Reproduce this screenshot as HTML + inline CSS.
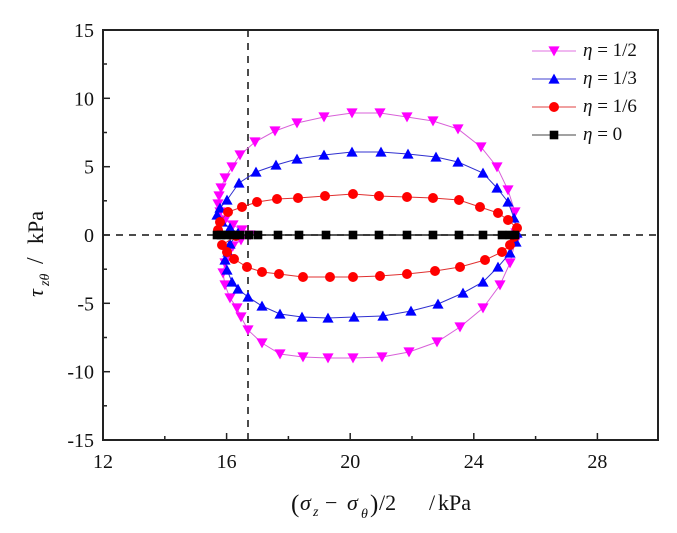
<!DOCTYPE html>
<html><head><meta charset="utf-8">
<style>
html,body{margin:0;padding:0;background:#fff;}
svg{display:block;}
text{font-family:"Liberation Serif","DejaVu Serif",serif;fill:#111;}
</style></head>
<body>
<svg width="677" height="533" viewBox="0 0 677 533" xmlns="http://www.w3.org/2000/svg">
<defs>
<path id="td" d="M-5.6,-4.6 L5.6,-4.6 L0,5.4Z"/>
<path id="tu" d="M-5.6,4.6 L5.6,4.6 L0,-5.4Z"/>
<circle id="ci" r="5"/>
<rect id="sq" x="-4.3" y="-4.3" width="8.6" height="8.6"/>
</defs>
<rect x="0" y="0" width="677" height="533" fill="#fff"/>

<!-- dashed lines -->
<line x1="103" y1="235" x2="658" y2="235" stroke="#111" stroke-width="1.5" stroke-dasharray="7,6"/>
<line x1="248" y1="30" x2="248" y2="440" stroke="#111" stroke-width="1.5" stroke-dasharray="7,6"/>

<!-- magenta eta=1/2 -->
<polyline fill="none" stroke="#d860d8" stroke-width="1" points="516,233 515,212 508,190 497,167 481,147 458,129 433,121 407,117 380,113 352,113 324,117 297,123 275,131 255,142 240,155 232,167 225,178 221,188 219,196 218,204 220,212 225,220 233,225 242,230 250,235 241,240 233,246 228,254 225,263 223,273 225,285 230,298 237,308 241,317 248,330 262,343 280,354 303,357 328,358 353,358 382,357 409,352 437,342 460,327 483,308 500,285 510,263 515,242 516,233"/>
<g fill="#ff00ff">
<use href="#td" x="516" y="233"/><use href="#td" x="515" y="212"/><use href="#td" x="508" y="190"/><use href="#td" x="497" y="167"/><use href="#td" x="481" y="147"/><use href="#td" x="458" y="129"/><use href="#td" x="433" y="121"/><use href="#td" x="407" y="117"/><use href="#td" x="380" y="113"/><use href="#td" x="352" y="113"/><use href="#td" x="324" y="117"/><use href="#td" x="297" y="123"/><use href="#td" x="275" y="131"/><use href="#td" x="255" y="142"/><use href="#td" x="240" y="155"/><use href="#td" x="232" y="167"/><use href="#td" x="225" y="178"/><use href="#td" x="221" y="188"/><use href="#td" x="219" y="196"/><use href="#td" x="218" y="204"/><use href="#td" x="220" y="212"/><use href="#td" x="225" y="220"/><use href="#td" x="233" y="225"/><use href="#td" x="242" y="230"/><use href="#td" x="250" y="235"/><use href="#td" x="241" y="240"/><use href="#td" x="233" y="246"/><use href="#td" x="228" y="254"/><use href="#td" x="225" y="263"/><use href="#td" x="223" y="273"/><use href="#td" x="225" y="285"/><use href="#td" x="230" y="298"/><use href="#td" x="237" y="308"/><use href="#td" x="241" y="317"/><use href="#td" x="248" y="330"/><use href="#td" x="262" y="343"/><use href="#td" x="280" y="354"/><use href="#td" x="303" y="357"/><use href="#td" x="328" y="358"/><use href="#td" x="353" y="358"/><use href="#td" x="382" y="357"/><use href="#td" x="409" y="352"/><use href="#td" x="437" y="342"/><use href="#td" x="460" y="327"/><use href="#td" x="483" y="308"/><use href="#td" x="500" y="285"/><use href="#td" x="510" y="263"/><use href="#td" x="515" y="242"/>
</g>

<!-- blue eta=1/3 -->
<polyline fill="none" stroke="#3030d0" stroke-width="1" points="517,233 514,218 508,202 497,188 483,173 458,162 436,157 408,154 381,152 352,152 324,155 297,159 276,165 256,172 239,183 227,200 220,208 217,215 222,222 230,228 238,233 230,244 228,252 225,260 227,270 232,282 238,289 248,297 262,306 280,314 302,317 328,318 354,317 383,316 411,311 438,304 463,293 483,282 498,267 510,253 516,242 517,233"/>
<g fill="#0000ff">
<use href="#tu" x="517" y="233"/><use href="#tu" x="514" y="218"/><use href="#tu" x="508" y="202"/><use href="#tu" x="497" y="188"/><use href="#tu" x="483" y="173"/><use href="#tu" x="458" y="162"/><use href="#tu" x="436" y="157"/><use href="#tu" x="408" y="154"/><use href="#tu" x="381" y="152"/><use href="#tu" x="352" y="152"/><use href="#tu" x="324" y="155"/><use href="#tu" x="297" y="159"/><use href="#tu" x="276" y="165"/><use href="#tu" x="256" y="172"/><use href="#tu" x="239" y="183"/><use href="#tu" x="227" y="200"/><use href="#tu" x="220" y="208"/><use href="#tu" x="217" y="215"/><use href="#tu" x="222" y="222"/><use href="#tu" x="230" y="228"/><use href="#tu" x="238" y="233"/><use href="#tu" x="230" y="244"/><use href="#tu" x="228" y="252"/><use href="#tu" x="225" y="260"/><use href="#tu" x="227" y="270"/><use href="#tu" x="232" y="282"/><use href="#tu" x="238" y="289"/><use href="#tu" x="248" y="297"/><use href="#tu" x="262" y="306"/><use href="#tu" x="280" y="314"/><use href="#tu" x="302" y="317"/><use href="#tu" x="328" y="318"/><use href="#tu" x="354" y="317"/><use href="#tu" x="383" y="316"/><use href="#tu" x="411" y="311"/><use href="#tu" x="438" y="304"/><use href="#tu" x="463" y="293"/><use href="#tu" x="483" y="282"/><use href="#tu" x="498" y="267"/><use href="#tu" x="510" y="253"/><use href="#tu" x="516" y="242"/>
</g>

<!-- red eta=1/6 -->
<polyline fill="none" stroke="#e03030" stroke-width="1" points="517,228 508,220 498,213 480,207 459,200 433,198 407,197 379,196 353,194 325,196 298,198 277,199 257,202 242,207 228,212 220,222 218,230 236,236 222,245 227,252 234,259 247,267 262,272 279,274 303,277 330,277 353,277 380,276 407,274 435,271 460,267 485,260 502,252 510,245 514,237 517,228"/>
<g fill="#ff0000">
<use href="#ci" x="517" y="228"/><use href="#ci" x="508" y="220"/><use href="#ci" x="498" y="213"/><use href="#ci" x="480" y="207"/><use href="#ci" x="459" y="200"/><use href="#ci" x="433" y="198"/><use href="#ci" x="407" y="197"/><use href="#ci" x="379" y="196"/><use href="#ci" x="353" y="194"/><use href="#ci" x="325" y="196"/><use href="#ci" x="298" y="198"/><use href="#ci" x="277" y="199"/><use href="#ci" x="257" y="202"/><use href="#ci" x="242" y="207"/><use href="#ci" x="228" y="212"/><use href="#ci" x="220" y="222"/><use href="#ci" x="218" y="230"/><use href="#ci" x="236" y="236"/><use href="#ci" x="222" y="245"/><use href="#ci" x="227" y="252"/><use href="#ci" x="234" y="259"/><use href="#ci" x="247" y="267"/><use href="#ci" x="262" y="272"/><use href="#ci" x="279" y="274"/><use href="#ci" x="303" y="277"/><use href="#ci" x="330" y="277"/><use href="#ci" x="353" y="277"/><use href="#ci" x="380" y="276"/><use href="#ci" x="407" y="274"/><use href="#ci" x="435" y="271"/><use href="#ci" x="460" y="267"/><use href="#ci" x="485" y="260"/><use href="#ci" x="502" y="252"/><use href="#ci" x="510" y="245"/><use href="#ci" x="514" y="237"/>
</g>

<!-- black eta=0 -->
<line x1="217" y1="235" x2="515" y2="235" stroke="#222" stroke-width="1.5"/>
<g fill="#000">
<use href="#sq" x="217" y="235"/><use href="#sq" x="221" y="235"/><use href="#sq" x="226" y="235"/><use href="#sq" x="232" y="235"/><use href="#sq" x="240" y="235"/><use href="#sq" x="249" y="235"/><use href="#sq" x="258" y="235"/><use href="#sq" x="278" y="235"/><use href="#sq" x="299" y="235"/><use href="#sq" x="326" y="235"/><use href="#sq" x="353" y="235"/><use href="#sq" x="379" y="235"/><use href="#sq" x="407" y="235"/><use href="#sq" x="433" y="235"/><use href="#sq" x="459" y="235"/><use href="#sq" x="483" y="235"/><use href="#sq" x="502" y="235"/><use href="#sq" x="510" y="235"/><use href="#sq" x="515" y="235"/>
</g>

<!-- frame -->
<rect x="103" y="30" width="555" height="410" fill="none" stroke="#222" stroke-width="2"/>

<!-- y ticks -->
<g stroke="#222" stroke-width="1.5">
<line x1="103" y1="30" x2="110" y2="30"/><line x1="103" y1="64" x2="107" y2="64"/>
<line x1="103" y1="98.3" x2="110" y2="98.3"/><line x1="103" y1="132.5" x2="107" y2="132.5"/>
<line x1="103" y1="166.7" x2="110" y2="166.7"/><line x1="103" y1="200.8" x2="107" y2="200.8"/>
<line x1="103" y1="235" x2="110" y2="235"/><line x1="103" y1="269.2" x2="107" y2="269.2"/>
<line x1="103" y1="303.3" x2="110" y2="303.3"/><line x1="103" y1="337.5" x2="107" y2="337.5"/>
<line x1="103" y1="371.7" x2="110" y2="371.7"/><line x1="103" y1="405.8" x2="107" y2="405.8"/>
<!-- x ticks -->
<line x1="164.8" y1="440" x2="164.8" y2="436"/><line x1="226.6" y1="440" x2="226.6" y2="433"/>
<line x1="288.4" y1="440" x2="288.4" y2="436"/><line x1="350.2" y1="440" x2="350.2" y2="433"/>
<line x1="412" y1="440" x2="412" y2="436"/><line x1="473.8" y1="440" x2="473.8" y2="433"/>
<line x1="535.6" y1="440" x2="535.6" y2="436"/><line x1="597.4" y1="440" x2="597.4" y2="433"/>
</g>

<!-- y tick labels -->
<g font-size="20" text-anchor="end">
<text x="94" y="37">15</text>
<text x="94" y="105.3">10</text>
<text x="94" y="173.7">5</text>
<text x="94" y="242">0</text>
<text x="94" y="310.3">-5</text>
<text x="94" y="378.7">-10</text>
<text x="94" y="447">-15</text>
</g>
<!-- x tick labels -->
<g font-size="20" text-anchor="middle">
<text x="103" y="468">12</text>
<text x="226.6" y="468">16</text>
<text x="350.2" y="468">20</text>
<text x="473.8" y="468">24</text>
<text x="597.4" y="468">28</text>
</g>

<!-- x axis label -->
<g font-size="22">
<text x="291" y="512" font-size="25">(</text>
<text x="300" y="510" font-style="italic">σ</text>
<text x="313" y="516" font-size="14" font-style="italic">z</text>
<text x="325" y="510">−</text>
<text x="347" y="510" font-style="italic">σ</text>
<text x="361" y="518" font-size="14" font-style="italic">θ</text>
<text x="370" y="512" font-size="25">)</text>
<text x="379" y="510">/2</text>
<text x="429" y="510">/</text>
<text x="438" y="510">kPa</text>
</g>

<!-- y axis label -->
<g transform="translate(43,297) rotate(-90)" font-size="22">
<text x="0" y="0" font-style="italic">τ</text>
<text x="11" y="6" font-size="14" font-style="italic">zθ</text>
<text x="33" y="0" font-size="24">/</text>
<text x="53" y="0">kPa</text>
</g>

<!-- legend -->
<g stroke-width="1">
<line x1="532" y1="51" x2="576" y2="51" stroke="#e070e0"/>
<line x1="532" y1="79" x2="576" y2="79" stroke="#4040d0"/>
<line x1="532" y1="107" x2="576" y2="107" stroke="#e04040"/>
<line x1="532" y1="135" x2="576" y2="135" stroke="#444"/>
</g>
<use href="#td" x="554" y="51" fill="#ff00ff"/>
<use href="#tu" x="554" y="79" fill="#0000ff"/>
<use href="#ci" x="554" y="107" fill="#ff0000"/>
<use href="#sq" x="554" y="135" fill="#000"/>
<g font-size="19">
<text x="583" y="56"><tspan font-style="italic">η</tspan> = 1/2</text>
<text x="583" y="84"><tspan font-style="italic">η</tspan> = 1/3</text>
<text x="583" y="112"><tspan font-style="italic">η</tspan> = 1/6</text>
<text x="583" y="140"><tspan font-style="italic">η</tspan> = 0</text>
</g>
</svg>
</body></html>
